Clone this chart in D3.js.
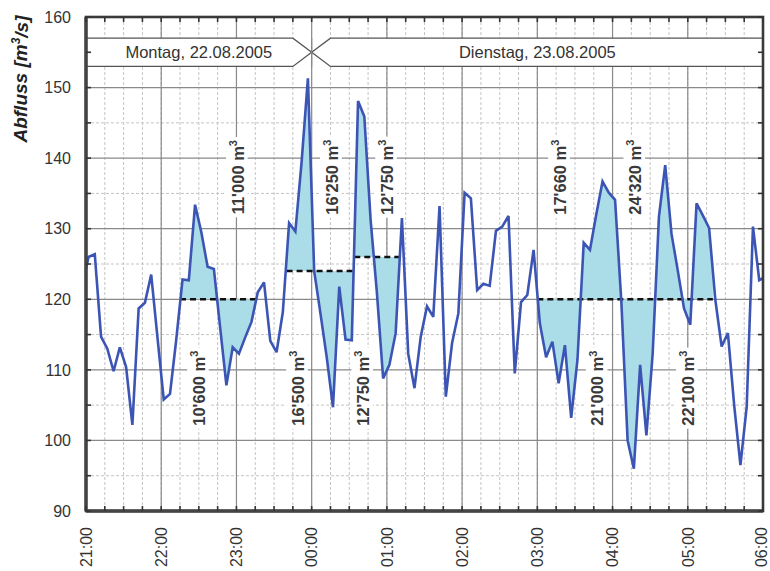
<!DOCTYPE html>
<html>
<head>
<meta charset="utf-8">
<script src="https://cdn.jsdelivr.net/npm/d3@7"></script>
<style>
  html, body { margin: 0; padding: 0; background: #fff; }
  svg { display: block; font-family: "Liberation Sans", Arial, sans-serif; }
</style>
</head>
<body>
<svg id="chart" width="770" height="571"></svg>
<script>
// Abfluss (m³/s), 5-minute values, night of 22./23.08.2005
const times = [
  "21:00","21:02","21:07","21:12","21:17","21:22","21:27","21:32","21:37","21:42","21:47","21:52","21:57",
  "22:02","22:07","22:12","22:17","22:22","22:27","22:32","22:37","22:42","22:47","22:52","22:57",
  "23:02","23:07","23:12","23:17","23:22","23:27","23:32","23:37","23:42","23:47","23:52","23:57",
  "00:02","00:07","00:12","00:17","00:22","00:27","00:32","00:37","00:42","00:47","00:52","00:57",
  "01:02","01:07","01:12","01:17","01:22","01:27","01:32","01:37","01:42","01:47","01:52","01:57",
  "02:02","02:07","02:12","02:17","02:22","02:27","02:32","02:37","02:42","02:47","02:52","02:57",
  "03:02","03:07","03:12","03:17","03:22","03:27","03:32","03:37","03:42","03:47","03:52","03:57",
  "04:02","04:07","04:12","04:17","04:22","04:27","04:32","04:37","04:42","04:47","04:52","04:57",
  "05:02","05:07","05:12","05:17","05:22","05:27","05:32","05:37","05:42","05:47","05:52","05:57","06:00"
];
const flow = [
  124.3,126.0,126.4,114.7,113.0,109.8,113.2,110.4,102.2,118.7,119.5,123.5,114.6,
  105.8,106.6,114.3,122.8,122.7,133.4,129.5,124.6,124.3,116.0,107.8,113.2,
  112.3,114.6,116.8,121.0,122.4,114.1,112.5,118.2,130.8,129.6,139.5,151.3,
  124.0,118.0,111.8,104.7,121.8,114.3,114.2,148.1,145.9,131.3,121.0,108.8,
  110.7,115.2,131.5,112.3,107.4,114.7,119.0,117.5,133.2,106.2,113.8,118.0,
  135.1,134.3,121.3,122.2,121.9,129.7,130.3,131.8,109.5,119.6,120.6,127.0,
  116.6,111.8,114.0,108.1,113.5,103.2,111.4,128.0,127.0,132.0,136.7,135.1,
  134.1,119.7,100.0,96.0,110.7,100.7,112.3,131.7,139.0,129.3,124.1,118.7,
  116.4,133.6,131.9,130.1,119.9,113.3,115.2,105.0,96.5,104.8,130.3,122.7,123.0
];

// Reference levels and the periods over which they apply
const levelStart = ["22:15","23:40","00:34","03:00"];
const levelEnd   = ["23:16","00:34","01:11","05:20"];
const levelValue = [120, 124, 126, 120];

// Volume annotations (above / below the reference level)
const volText = ["10'600","11'000","16'500","16'250","12'750","12'750","17'660","24'320","21'000","22'100"];
const volTime = ["22:30","23:01","23:49","00:16","00:41","01:00","03:18","04:18","03:48","05:00"];
const volRow  = ["low","high","low","high","low","high","high","high","low","low"];

// Day bands
const dayText  = ["Montag, 22.08.2005", "Dienstag, 23.08.2005"];
const dayStart = ["21:00", "00:00"];
const dayEnd   = ["00:00", "06:00"];

const yTicks = [90, 100, 110, 120, 130, 140, 150, 160];

// ---- helpers ----
const parseT = d3.timeParse("%Y-%m-%d %H:%M");
function toDate(hm) {
  const h = +hm.slice(0, 2);
  return parseT((h >= 12 ? "2005-08-22 " : "2005-08-23 ") + hm);
}
const data = times.map((t, i) => ({ t: toDate(t), v: flow[i] }));

const svg = d3.select("#chart");
const L = 86, R = 763, T = 17, B = 511;

const x = d3.scaleTime().domain([toDate("21:00"), toDate("06:00")]).range([L, R]);
const y = d3.scaleLinear().domain([90, 160]).range([B, T]);

svg.append("rect").attr("width", 770).attr("height", 571).attr("fill", "#fff");

// ---- grid ----
const grid = svg.append("g");
const minorX = x.ticks(d3.timeMinute.every(15));
const majorX = x.ticks(d3.timeHour.every(1));
const minorY = d3.range(95, 160, 10);

grid.selectAll(".mx").data(minorX).join("line")
  .attr("x1", d => x(d)).attr("x2", d => x(d)).attr("y1", T).attr("y2", B)
  .attr("stroke", "#c4c4c4").attr("stroke-width", 1).attr("stroke-dasharray", "3,2");
grid.selectAll(".my").data(minorY).join("line")
  .attr("x1", L).attr("x2", R).attr("y1", d => y(d)).attr("y2", d => y(d))
  .attr("stroke", "#c4c4c4").attr("stroke-width", 1).attr("stroke-dasharray", "3,2");
grid.selectAll(".Mx").data(majorX).join("line")
  .attr("x1", d => x(d)).attr("x2", d => x(d)).attr("y1", T).attr("y2", B)
  .attr("stroke", "#8a8a8a").attr("stroke-width", 1.2);
grid.selectAll(".My").data(yTicks).join("line")
  .attr("x1", L).attr("x2", R).attr("y1", d => y(d)).attr("y2", d => y(d))
  .attr("stroke", "#8a8a8a").attr("stroke-width", 1.2);

// ---- day bands ----
const bandTop = y(157), bandBot = y(153), bandMid = (bandTop + bandBot) / 2;
const bands = svg.append("g");
const tip = x(toDate("00:15")) - x(toDate("00:00"));
dayText.forEach((txt, i) => {
  const x0 = x(toDate(dayStart[i])), x1 = x(toDate(dayEnd[i]));
  const leftTip = i > 0, rightTip = i === 0;
  const pts = [];
  pts.push([leftTip ? x0 + tip : x0, bandTop]);
  pts.push([rightTip ? x1 - tip : x1, bandTop]);
  if (rightTip) pts.push([x1, bandMid]);
  pts.push([rightTip ? x1 - tip : x1, bandBot]);
  pts.push([leftTip ? x0 + tip : x0, bandBot]);
  if (leftTip) pts.push([x0, bandMid]);
  bands.append("polygon").attr("points", pts.map(p => p.join(",")).join(" "))
    .attr("fill", "#fff").attr("stroke", "none");
  // outline: top and bottom edges including the slanted ends
  const edge = d3.line();
  const top = [], bot = [];
  top.push([leftTip ? x0 + tip : x0, bandTop]); top.push([rightTip ? x1 - tip : x1, bandTop]);
  bot.push([leftTip ? x0 + tip : x0, bandBot]); bot.push([rightTip ? x1 - tip : x1, bandBot]);
  if (rightTip) { top.push([x1, bandMid]); bot.push([x1, bandMid]); }
  if (leftTip) { top.unshift([x0, bandMid]); bot.unshift([x0, bandMid]); }
  [top, bot].forEach(p => bands.append("path").attr("d", edge(p))
    .attr("fill", "none").attr("stroke", "#555").attr("stroke-width", 1.3));
  bands.append("text").attr("x", (x0 + x1) / 2).attr("y", bandMid).attr("dy", "0.36em")
    .attr("text-anchor", "middle").attr("font-size", 16.5).attr("fill", "#333").text(txt);
});
// extend the midnight grid line through the crossing
bands.append("line").attr("x1", x(toDate("00:00"))).attr("x2", x(toDate("00:00")))
  .attr("y1", bandTop).attr("y2", bandBot).attr("stroke", "#8a8a8a").attr("stroke-width", 1.2);

// ---- shaded volumes between flow and reference level ----
const defs = svg.append("defs");
const fills = svg.append("g");
levelValue.forEach((lv, i) => {
  const xs = x(toDate(levelStart[i])), xe = x(toDate(levelEnd[i]));
  defs.append("clipPath").attr("id", "clip" + i)
    .append("rect").attr("x", xs).attr("y", T).attr("width", xe - xs).attr("height", B - T);
  fills.append("path").datum(data)
    .attr("clip-path", `url(#clip${i})`)
    .attr("d", d3.area().x(d => x(d.t)).y0(y(lv)).y1(d => y(d.v)))
    .attr("fill", "#abdde9");
});

// ---- volume labels ----
const labels = svg.append("g");
volText.forEach((txt, i) => {
  const cx = x(toDate(volTime[i]));
  const cy = y(volRow[i] === "high" ? 137.3 : 107.4);
  const g = labels.append("g").attr("transform", `translate(${cx},${cy}) rotate(-90)`);
  const bg = g.append("rect").attr("fill", "#fff");
  const t = g.append("text").attr("text-anchor", "middle").attr("dy", "0.36em")
    .attr("font-size", 16.5).attr("font-weight", "bold").attr("fill", "#3a3a3a");
  t.append("tspan").text(txt + " m");
  t.append("tspan").attr("font-size", 11).attr("dy", "-0.6em").text("3");
  const bb = t.node().getBBox();
  bg.attr("x", bb.x - 3).attr("y", bb.y - 1).attr("width", bb.width + 6).attr("height", bb.height + 2);
});

// ---- reference level lines ----
levelValue.forEach((lv, i) => {
  svg.append("line")
    .attr("x1", x(toDate(levelStart[i]))).attr("x2", x(toDate(levelEnd[i])))
    .attr("y1", y(lv)).attr("y2", y(lv))
    .attr("stroke", "#111").attr("stroke-width", 2.6).attr("stroke-dasharray", "6,4");
});

// ---- flow line ----
svg.append("path").datum(data)
  .attr("d", d3.line().x(d => x(d.t)).y(d => y(d.v)))
  .attr("fill", "none").attr("stroke", "#3c55b4").attr("stroke-width", 2.6)
  .attr("stroke-linejoin", "miter").attr("stroke-miterlimit", 3);

// ---- frame and ticks ----
const frame = svg.append("g");
frame.append("rect").attr("x", L).attr("y", T).attr("width", R - L).attr("height", B - T)
  .attr("fill", "none").attr("stroke", "#3a3a3a").attr("stroke-width", 2.6);
frame.append("line").attr("x1", L).attr("x2", L).attr("y1", T).attr("y2", B)
  .attr("stroke", "#444").attr("stroke-width", 3.4);
frame.append("line").attr("x1", L).attr("x2", R).attr("y1", B).attr("y2", B)
  .attr("stroke", "#444").attr("stroke-width", 3.4);
const tk = 5;
frame.selectAll(".tb").data(minorX).join("line")
  .attr("x1", d => x(d)).attr("x2", d => x(d)).attr("y1", B).attr("y2", B - tk)
  .attr("stroke", "#333").attr("stroke-width", 1.6);
frame.selectAll(".tt").data(minorX).join("line")
  .attr("x1", d => x(d)).attr("x2", d => x(d)).attr("y1", T).attr("y2", T + tk)
  .attr("stroke", "#333").attr("stroke-width", 1.6);
const allY = d3.range(90, 161, 5);
frame.selectAll(".tl").data(allY).join("line")
  .attr("x1", L).attr("x2", L + tk).attr("y1", d => y(d)).attr("y2", d => y(d))
  .attr("stroke", "#333").attr("stroke-width", 1.6);
frame.selectAll(".tr").data(allY).join("line")
  .attr("x1", R).attr("x2", R - tk).attr("y1", d => y(d)).attr("y2", d => y(d))
  .attr("stroke", "#333").attr("stroke-width", 1.6);

// ---- axis labels ----
svg.append("g").selectAll("text").data(yTicks).join("text")
  .attr("x", 71).attr("y", d => y(d)).attr("dy", "0.36em").attr("text-anchor", "end")
  .attr("font-size", 16).attr("fill", "#333").text(d => d);

const fmt = d3.timeFormat("%H:%M");
svg.append("g").selectAll("text").data(majorX).join("text")
  .attr("transform", (d, i) => `translate(${Math.min(x(d), 761)},527) rotate(-90)`)
  .attr("dy", "0.36em").attr("text-anchor", "end")
  .attr("font-size", 16).attr("fill", "#333").text(d => fmt(d));

const title = svg.append("text")
  .attr("transform", "translate(20,79) rotate(-90)")
  .attr("dy", "0.36em").attr("text-anchor", "middle")
  .attr("font-size", 19).attr("font-weight", "bold").attr("font-style", "italic").attr("fill", "#222");
title.append("tspan").text("Abfluss [m");
title.append("tspan").attr("font-size", 12).attr("dy", "-0.6em").text("3");
title.append("tspan").attr("dy", "0.42em").text("/s]");
</script>
</body>
</html>
